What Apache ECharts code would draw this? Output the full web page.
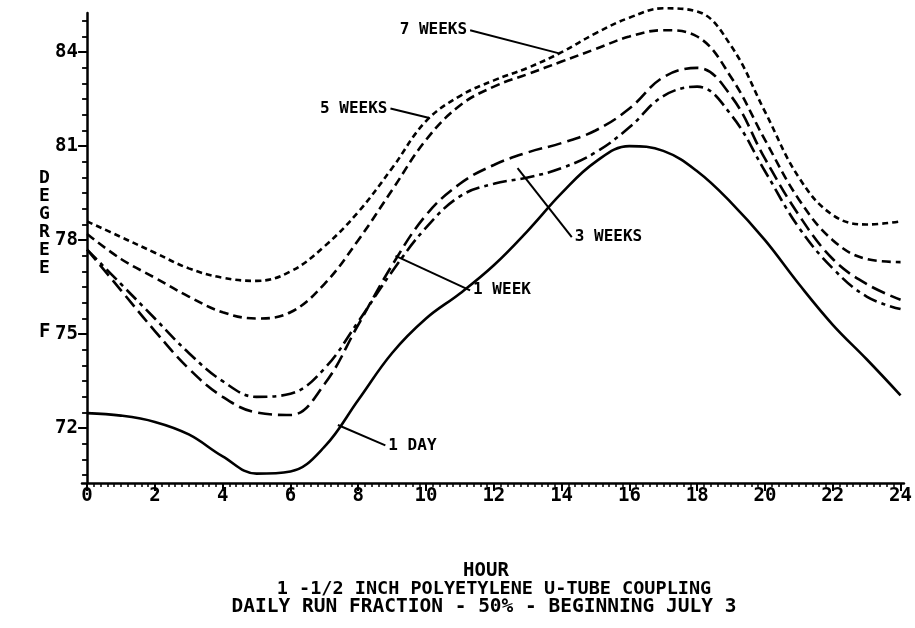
<!DOCTYPE html>
<html><head><meta charset="utf-8">
<script src="https://cdn.jsdelivr.net/npm/echarts@6/dist/echarts.min.js"></script>
<style>html,body{margin:0;padding:0;background:#fff}#c{width:915px;height:628px}</style>
</head><body><div id="c"></div>
<script>
var hours = [0,1,2,3,4,5,6,7,8,9,10,11,12,13,14,15,16,17,18,19,20,21,22,23,24];
var oneDay   = [72.48,72.4,72.2,71.8,71.1,70.55,70.62,71.4,72.9,74.4,75.5,76.3,77.2,78.3,79.5,80.5,81.0,80.85,80.2,79.2,78.0,76.6,75.3,74.2,73.05];
var oneWeek  = [77.7,76.4,75.1,73.9,73.0,72.5,72.42,73.4,75.3,77.2,78.8,79.8,80.4,80.8,81.1,81.5,82.2,83.2,83.5,82.6,80.6,78.8,77.4,76.6,76.1];
var threeWeeks = [77.7,76.6,75.5,74.4,73.5,73.0,73.1,73.9,75.4,77.0,78.4,79.4,79.8,80.0,80.3,80.8,81.6,82.6,82.9,82.0,80.2,78.4,77.1,76.2,75.8];
var fiveWeeks  = [78.2,77.4,76.8,76.2,75.7,75.5,75.7,76.6,78.0,79.6,81.2,82.3,82.9,83.3,83.7,84.1,84.5,84.7,84.5,83.2,81.2,79.3,78.0,77.4,77.3];
var sevenWeeks = [78.6,78.1,77.6,77.1,76.8,76.7,77.0,77.8,78.9,80.3,81.8,82.6,83.1,83.5,84.0,84.6,85.1,85.4,85.3,84.2,82.1,80.0,78.8,78.5,78.6];
var seriesNames = ['1 DAY','1 WEEK','3 WEEKS','5 WEEKS','7 WEEKS'];
var xTickLabels = [0,2,4,6,8,10,12,14,16,18,20,22,24];
var yTickLabels = [72,75,78,81,84];
// annotations: text, leader start (by the text) and leader end (on the curve), in hours / degrees
var annText = ['7 WEEKS','5 WEEKS','3 WEEKS','1 WEEK','1 DAY'];
var annFrom = [[11.3,84.7],[8.95,82.2],[14.3,78.1],[11.3,76.4],[8.8,71.45]];
var annTo   = [[13.9,83.97],[10.1,81.9],[12.7,80.3],[9.1,77.5],[7.4,72.1]];
var annPos  = ['left','left','right','right','right'];

function pairs(v){return hours.map(function(h,i){return [h,v[i]];});}
var FONT = '"DejaVu Sans Mono", monospace';
var minorX=[],minorY=[];
for (var i=0;i<=120;i++) minorX.push(+(i*0.2).toFixed(1));
for (var j=141;j<=170;j++) minorY.push(j/2);

var dashTypes = ['solid',[14,6],[14,5,4,5],[9,5],[6,4]];
var dataSets=[oneDay,oneWeek,threeWeeks,fiveWeeks,sevenWeeks];
var series = dataSets.map(function(d,k){
  return {name:seriesNames[k],type:'line',data:pairs(d),smooth:0.4,showSymbol:false,clip:false,
    lineStyle:{color:'#000',width:2.6,type:dashTypes[k]}};
});
annText.forEach(function(t,k){
  series.push({type:'line',data:[annTo[k],annFrom[k]],showSymbol:false,symbol:'none',silent:true,
    lineStyle:{color:'#000',width:2}});
  series.push({type:'scatter',data:[annFrom[k]],symbolSize:0,silent:true,itemStyle:{opacity:1,color:'#000'},
    label:{show:true,formatter:t,position:annPos[k],distance:3,fontFamily:FONT,fontWeight:'bold',fontSize:16,color:'#000',opacity:1}});
});
var axBase = {type:'value',min:-0.15,max:24.1,splitLine:{show:false}};
var option = {
  animation:false,
  backgroundColor:'#fff',
  grid:{left:82,right:4,top:13,bottom:145,containLabel:false},
  xAxis:[
    Object.assign({},axBase,{axisLine:{lineStyle:{color:'#000',width:2.5}},
      axisTick:{show:true,customValues:minorX,length:4,lineStyle:{color:'#000',width:1.5}},
      axisLabel:{show:false}}),
    Object.assign({},axBase,{position:'bottom',axisLine:{show:false},
      axisTick:{show:true,customValues:xTickLabels,length:8,lineStyle:{color:'#000',width:2}},
      axisLabel:{show:true,customValues:xTickLabels,margin:4,fontFamily:FONT,fontWeight:'bold',fontSize:19,color:'#000'}})
  ],
  yAxis:[
    {type:'value',min:70.25,max:85.25,splitLine:{show:false},axisLine:{show:true,lineStyle:{color:'#000',width:2.5}},
      axisTick:{show:true,customValues:minorY,length:5,lineStyle:{color:'#000',width:1.8}},axisLabel:{show:false}},
    {type:'value',min:70.25,max:85.25,position:'left',splitLine:{show:false},axisLine:{show:false},
      axisTick:{show:true,customValues:yTickLabels,length:9,lineStyle:{color:'#000',width:2}},
      axisLabel:{show:true,customValues:yTickLabels,margin:4,fontFamily:FONT,fontWeight:'bold',fontSize:19,color:'#000'}}
  ],
  graphic:[
    {type:'text',x:39,y:169,style:{text:'D\nE\nG\nR\nE\nE',font:'bold 18px '+FONT,lineHeight:18,fill:'#000'}},
    {type:'text',x:39,y:323,style:{text:'F',font:'bold 19px '+FONT,fill:'#000'}},
    {type:'text',x:486,y:562,style:{text:'HOUR',font:'bold 19px '+FONT,fill:'#000',textAlign:'center'}},
    {type:'text',x:494,y:580,style:{text:'1 -1/2 INCH POLYETYLENE U-TUBE COUPLING',font:'bold 18.5px '+FONT,fill:'#000',textAlign:'center'}},
    {type:'text',x:484,y:597,style:{text:'DAILY RUN FRACTION - 50% - BEGINNING JULY 3',font:'bold 19.5px '+FONT,fill:'#000',textAlign:'center'}}
  ],
  series:series
};
var chart = echarts.init(document.getElementById('c'));
chart.setOption(option);
</script></body></html>
